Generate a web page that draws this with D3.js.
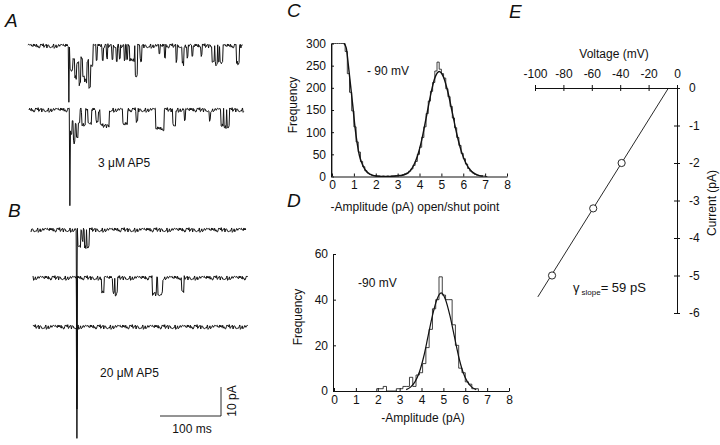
<!DOCTYPE html>
<html>
<head>
<meta charset="utf-8">
<script src="https://cdn.jsdelivr.net/npm/d3@7"></script>
<style>
body { margin: 0; background: #fff; }
svg text { font-family: "Liberation Sans", Arial, sans-serif; fill: #111; }
</style>
</head>
<body>
<div id="chart"></div>
<script>
var width = 720, height = 445;

// single-channel records, [start ms, end ms, depth pA]; first entry = stimulus artefact
var traceMs = 352;
var noisePA = [0.3,-0.5,0.6,-0.2,0.4,-0.7,0.1,0.6,-0.3,0.0,0.7,-0.6,0.3,-0.1,0.5,-0.4,0.8,0.0,-0.3,0.4,-0.7,0.3,0.1,-0.5,0.6,-0.2,0.3,-0.6,0.4,0.7,-0.3,0.0,0.5,-0.4,0.1,0.6,-0.8,0.3,-0.2,0.4,-0.3,0.7,0.0,-0.5,0.3,0.6,-0.1,-0.6,0.4,0.1,-0.3,0.6,-0.4];
var a1Events = [
    [67,68,20],
    [69,74,8],[74,77,5],[77,80,11],[80,84,6],[84,87,13],[87,90,4],[90,93,10],[93,97,12],[97,100,5],[100,103,14],[103,107,7],
    [112,114,5],[122,124,5],[129,131,4.5],[138,140,5],[145,147,5],[150,152,4],[158,160,5],[162,164,5],[167,175,5],[176,180,10],[184,187,5],
    [215,217,3],[224,226,4],[243,245,5],[253,256,6],[261,263,4],[269,271,4],[284,286,3],
    [302,306,5],[307,311,6],[312,314,5],[315,320,6],[342,347,6]
];
var a2Events = [
    [67,68,33],
    [68,71,8],[71,73,4],[73,76,11],[76,78,5],[78,81,9],[81,84,4],
    [87,93,5],[97,103,5],[110,114,4],[117,132,5.5],[154,162,5],[176,179,4],[208,222,6.5],[236,241,5],[255,257,4],[296,298,4],
    [315,319,5.5],[320,324,6],[325,329,5.5]
];
var b1Events = [[75,76,40],[77,82,6],[84,86,4],[88,91,6],[92,96,5.5]];
var b2Events = [[72,73,45],[113,117,5],[131,134,5],[135,139,5.5],[196,203,5.5],[205,213,5.5],[244,248,5]];
var b3Events = [[72,73,38]];

// C: open/shut point amplitude histogram, 0.1 pA bins from 0
var cBinWidth = 0.1;
var cCounts = [612,590,540,480,410,340,282,232,190,148,112,78,55,34,22,13,8,5,3,2,1,1,0,1,0,1,0,1,1,2,3,2,4,6,8,12,17,25,34,50,66,88,112,142,170,192,212,238,258,242,232,222,198,180,158,132,110,88,70,52,40,28,18,12,8,5,3,2,1,1,0];
var cFitX = [0.55,0.65,0.75,0.85,0.95,1.05,1.15,1.25,1.35,1.45,1.55,1.65,1.8,2.0,2.3,2.6,2.9,3.1,3.3,3.5,3.7,3.9,4.1,4.3,4.5,4.7,4.9,5.1,5.3,5.5,5.7,5.9,6.1,6.3,6.5,6.7,6.9];
var cFitY = [300,290,250,205,160,112,75,48,32,21,13,8,3.5,1,0.3,0.3,1,2,4,9,22,45,82,131,182,222,237,224,190,144,97,59,32,16,7,2.6,1];

// D: amplitude histogram, 0.15 pA bins from 1.95
var dBinStart = 1.95, dBinWidth = 0.15;
var dCounts = [1,1,2,0,0,0,1,1,2,2,6,2,7,8,12,19,27,36,40,50,42,40,40,29,20,10,8,4,3,1,1];
var dFitX = [3.3,3.5,3.7,3.9,4.1,4.3,4.5,4.7,4.9,5.1,5.3,5.5,5.7,5.9,6.1,6.3,6.5];
var dFitY = [0.6,1.7,4,8.2,15,24,33,40,43,40,33,24,15,8.2,4,1.7,0.6];

// E: single-channel I-V
var ivVoltage = [-88, -59, -39];
var ivCurrent = [-5.0, -3.21, -2.0];
var ivFitV = [-6, -98];
var ivFitI = [0, -5.57];

var ampTicks = [0,1,2,3,4,5,6,7,8];
var cFreqTicks = [0,50,100,150,200,250,300];
var dFreqTicks = [0,20,40,60];
var voltTicks = [-100,-80,-60,-40,-20,0];
var currTicks = [0,-1,-2,-3,-4,-5,-6];

var ink = '#111';
var svg = d3.select('#chart').append('svg')
    .attr('width', width)
    .attr('height', height);

function styleAxis(g) {
    g.attr('font-family', null).attr('font-size', 12);
    g.select('.domain').attr('stroke', ink);
    g.selectAll('.tick line').attr('stroke', ink);
    g.selectAll('.tick text').attr('fill', ink);
}

function label(x, y, txt, opts) {
    opts = opts || {};
    var t = svg.append('text')
        .attr('x', x).attr('y', y)
        .attr('font-size', opts.size || 12)
        .attr('text-anchor', opts.anchor || 'start')
        .text(txt);
    if (opts.italic) t.attr('font-style', 'italic');
    if (opts.rotate) t.attr('x', 0).attr('y', 0).attr('transform', 'translate(' + x + ',' + y + ') rotate(-90)');
    return t;
}

// panel letters
label(5, 27, 'A', {size: 19, italic: true});
label(8, 217, 'B', {size: 19, italic: true});
label(287, 17, 'C', {size: 19, italic: true});
label(287, 207, 'D', {size: 19, italic: true});
label(509, 18, 'E', {size: 19, italic: true});

// ---- A / B traces
var pxPerMs = 0.61, pxPerPA = 2.9;
var traceRows = [
    {events: a1Events, x0: 28, base: 46, seed: 0},
    {events: a2Events, x0: 29, base: 110, seed: 17},
    {events: b1Events, x0: 31, base: 230, seed: 5},
    {events: b2Events, x0: 33, base: 278, seed: 29},
    {events: b3Events, x0: 33, base: 327, seed: 41}
];

traceRows.forEach(function(row) {
    var tx = d3.scaleLinear().domain([0, traceMs]).range([row.x0, row.x0 + traceMs * pxPerMs]);
    var ty = d3.scaleLinear().domain([0, -10]).range([row.base, row.base + 10 * pxPerPA]);
    var pts = d3.range(0, traceMs + 1).map(function(t) {
        var v = noisePA[(t * 7 + row.seed) % noisePA.length];
        row.events.forEach(function(e) {
            if (t >= e[0] && t < e[1]) v -= e[2];
        });
        return [t, v];
    });
    svg.append('path')
        .datum(pts)
        .attr('d', d3.line().x(function(d) { return tx(d[0]); }).y(function(d) { return ty(d[1]); }))
        .attr('fill', 'none')
        .attr('stroke', ink)
        .attr('stroke-width', 1);
});

label(98, 167, '3 \u03BCM AP5');
label(100, 377, '20 \u03BCM AP5');

// scale bar 100 ms / 10 pA
var barMs = d3.scaleLinear().domain([0, 100]).range([0, 100 * pxPerMs]);
var barPA = d3.scaleLinear().domain([0, 10]).range([0, 10 * pxPerPA]);
var sbX = 221, sbY = 416;
svg.append('path')
    .attr('d', 'M' + (sbX - barMs(100)) + ',' + sbY + 'H' + sbX + 'V' + (sbY - barPA(10)))
    .attr('fill', 'none')
    .attr('stroke', ink)
    .attr('stroke-width', 0.9);
label(192, 433, '100 ms', {anchor: 'middle'});
label(236, 401, '10 pA', {anchor: 'middle', rotate: true});

// ---- C histogram
var cx = d3.scaleLinear().domain([0, 8]).range([332, 507]);
var cy = d3.scaleLinear().domain([0, 300]).range([176.5, 43.5]).clamp(true);

var cSteps = [[0, 0]].concat(cCounts.map(function(v, i) { return [i * cBinWidth, v]; }));
cSteps.push([cCounts.length * cBinWidth, 0]);
svg.append('path')
    .datum(cSteps)
    .attr('d', d3.line().curve(d3.curveStepAfter).x(function(d) { return cx(d[0]); }).y(function(d) { return cy(d[1]); }))
    .attr('fill', 'none').attr('stroke', ink).attr('stroke-width', 0.8);
svg.append('path')
    .datum(d3.zip(cFitX, cFitY))
    .attr('d', d3.line().curve(d3.curveMonotoneX).x(function(d) { return cx(d[0]); }).y(function(d) { return cy(d[1]); }))
    .attr('fill', 'none').attr('stroke', ink).attr('stroke-width', 1.4);

svg.append('g').attr('transform', 'translate(0,' + cy(0) + ')')
    .call(d3.axisBottom(cx).tickValues(ampTicks).tickSizeInner(-3).tickSizeOuter(0).tickPadding(4))
    .call(styleAxis);
svg.append('g').attr('transform', 'translate(' + (cx(0) - 1) + ',0)')
    .call(d3.axisLeft(cy).tickValues(cFreqTicks).tickSizeInner(-3).tickSizeOuter(0).tickPadding(5))
    .call(styleAxis);
label(297, 105, 'Frequency', {anchor: 'middle', rotate: true});
label(415, 211, '-Amplitude (pA) open/shut point', {anchor: 'middle'});
label(367, 75, '- 90 mV');

// ---- D histogram
var dx = d3.scaleLinear().domain([0, 8]).range([334, 509]);
var dy = d3.scaleLinear().domain([0, 60]).range([391, 254]);

var dSteps = [[dBinStart, 0]].concat(dCounts.map(function(v, i) { return [dBinStart + i * dBinWidth, v]; }));
dSteps.push([dBinStart + dCounts.length * dBinWidth, 0]);
svg.append('path')
    .datum(dSteps)
    .attr('d', d3.line().curve(d3.curveStepAfter).x(function(d) { return dx(d[0]); }).y(function(d) { return dy(d[1]); }))
    .attr('fill', 'none').attr('stroke', ink).attr('stroke-width', 0.8);
svg.append('path')
    .datum(d3.zip(dFitX, dFitY))
    .attr('d', d3.line().curve(d3.curveMonotoneX).x(function(d) { return dx(d[0]); }).y(function(d) { return dy(d[1]); }))
    .attr('fill', 'none').attr('stroke', ink).attr('stroke-width', 1.2);

svg.append('g').attr('transform', 'translate(0,' + dy(0) + ')')
    .call(d3.axisBottom(dx).tickValues(ampTicks).tickSizeInner(-3).tickSizeOuter(0).tickPadding(4))
    .call(styleAxis);
svg.append('g').attr('transform', 'translate(' + (dx(0) - 1) + ',0)')
    .call(d3.axisLeft(dy).tickValues(dFreqTicks).tickSizeInner(-3).tickSizeOuter(0).tickPadding(5))
    .call(styleAxis);
label(302, 317, 'Frequency', {anchor: 'middle', rotate: true});
label(423, 422, '-Amplitude (pA)', {anchor: 'middle'});
label(358, 287, '-90 mV');

// ---- E current-voltage
var ex = d3.scaleLinear().domain([-100, 0]).range([535, 677]);
var ey = d3.scaleLinear().domain([-6, 0]).range([313, 88]);

svg.append('g').attr('transform', 'translate(0,' + ey(0) + ')')
    .call(d3.axisTop(ex).tickValues(voltTicks).tickSize(3).tickSizeOuter(0).tickPadding(7).tickFormat(String))
    .call(styleAxis)
    .call(function(g) { g.selectAll('.tick line').attr('y1', 3); });
svg.append('g').attr('transform', 'translate(' + ex(0) + ',0)')
    .call(d3.axisRight(ey).tickValues(currTicks).tickSize(3).tickSizeOuter(0).tickPadding(9).tickFormat(String))
    .call(styleAxis)
    .call(function(g) { g.selectAll('.tick line').attr('x1', -3); });

svg.append('path')
    .datum(d3.zip(ivFitV, ivFitI))
    .attr('d', d3.line().x(function(d) { return ex(d[0]); }).y(function(d) { return ey(d[1]); }))
    .attr('fill', 'none').attr('stroke', ink).attr('stroke-width', 0.9);
svg.selectAll('circle.iv')
    .data(d3.zip(ivVoltage, ivCurrent))
    .enter().append('circle')
    .attr('class', 'iv')
    .attr('cx', function(d) { return ex(d[0]); })
    .attr('cy', function(d) { return ey(d[1]); })
    .attr('r', 3.6)
    .attr('fill', '#fff')
    .attr('stroke', ink)
    .attr('stroke-width', 0.9);

label(614, 58, 'Voltage (mV)', {anchor: 'middle'});
label(716, 203, 'Current (pA)', {anchor: 'middle', rotate: true});
var gam = label(573, 292, '\u03B3', {size: 13});
gam.append('tspan').attr('font-size', 8).attr('dx', 2).attr('dy', 3).text('slope');
gam.append('tspan').attr('dy', -3).text('= 59 pS');
</script>
</body>
</html>
